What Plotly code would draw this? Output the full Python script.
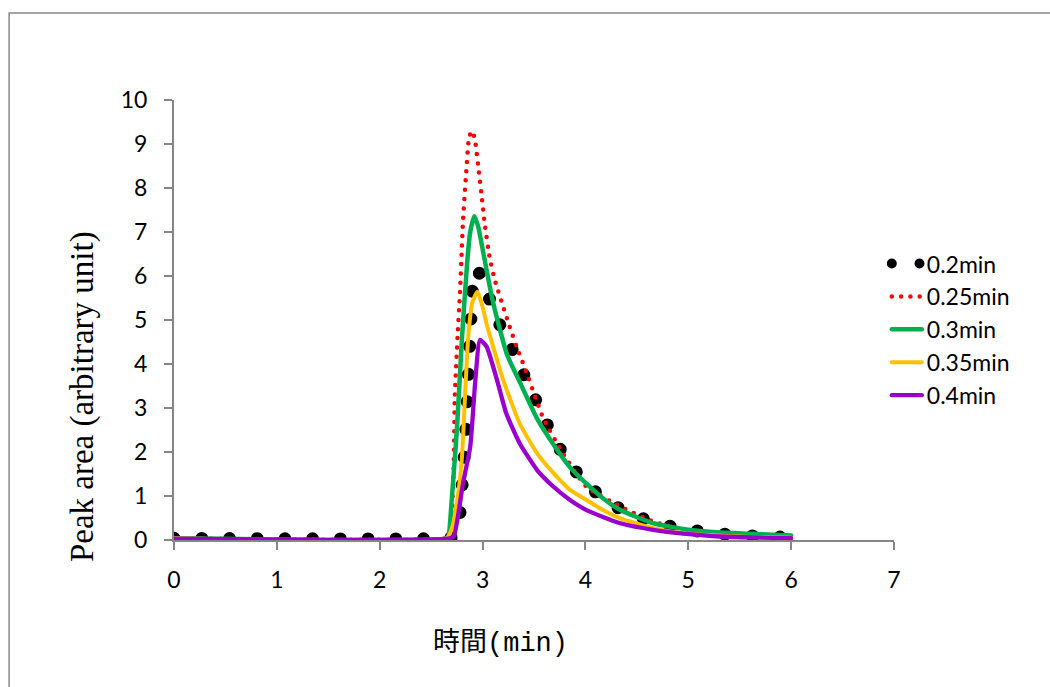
import plotly.graph_objects as go

# ---- data ----
series_names = ["0.2min", "0.25min", "0.3min", "0.35min", "0.4min"]

x_02 = [0, 2.66, 2.71, 2.75, 2.78, 2.80, 2.82, 2.84, 2.86, 2.88, 2.90, 2.93, 2.96, 3.06, 3.15, 3.24, 3.34, 3.45, 3.57, 3.68, 3.82, 3.99, 4.19, 4.42, 4.68, 4.94, 5.20, 5.47, 5.74, 6.0]
y_02 = [0.04, 0.04, 0.07, 0.3, 0.61, 1.21, 1.84, 2.6, 3.6, 4.7, 5.64, 6.15, 6.1, 5.52, 4.98, 4.55, 4.08, 3.5, 2.93, 2.36, 1.82, 1.33, 0.91, 0.61, 0.39, 0.26, 0.17, 0.11, 0.08, 0.06]

x_025 = [0, 2.65, 2.68, 2.70, 2.72, 2.73, 2.76, 2.78, 2.81, 2.84, 2.87, 2.90, 2.926, 2.96, 2.99, 3.02, 3.07, 3.12, 3.20, 3.27, 3.33, 3.43, 3.59, 3.77, 4.01, 4.34, 4.66, 4.98, 5.30, 5.60, 6.0]
y_025 = [0.04, 0.04, 0.1, 0.5, 1.74, 3.26, 4.77, 5.6, 7.27, 8.33, 9.17, 9.30, 9.09, 8.45, 7.84, 7.2, 6.4, 5.9, 5.3, 4.8, 4.4, 3.79, 2.77, 2.01, 1.21, 0.76, 0.42, 0.23, 0.14, 0.09, 0.05]

x_03 = [0, 2.65, 2.67, 2.70, 2.75, 2.80, 2.85, 2.88, 2.92, 2.96, 2.99, 3.09, 3.17, 3.24, 3.36, 3.53, 3.69, 3.85, 4.01, 4.17, 4.34, 4.66, 4.98, 5.31, 5.63, 6.0]
y_03 = [0.04, 0.04, 0.1, 0.9, 2.5, 4.6, 6.3, 7.0, 7.36, 7.1, 6.74, 5.53, 4.77, 4.2, 3.6, 2.76, 2.17, 1.65, 1.28, 0.95, 0.68, 0.38, 0.24, 0.17, 0.14, 0.10]

x_035 = [0, 2.65, 2.70, 2.76, 2.80, 2.83, 2.86, 2.90, 2.95, 3.00, 3.04, 3.09, 3.14, 3.20, 3.36, 3.53, 3.69, 3.85, 4.01, 4.17, 4.34, 4.66, 4.98, 5.50, 6.0]
y_035 = [0.04, 0.04, 0.25, 1.0, 1.9, 3.3, 4.6, 5.4, 5.64, 5.3, 4.9, 4.5, 4.1, 3.64, 2.65, 1.97, 1.52, 1.14, 0.91, 0.68, 0.49, 0.27, 0.15, 0.08, 0.05]

x_04 = [0, 2.67, 2.72, 2.76, 2.81, 2.88, 2.93, 2.975, 3.04, 3.14, 3.23, 3.36, 3.53, 3.69, 3.85, 4.01, 4.34, 4.66, 4.98, 5.31, 6.0]
y_04 = [0.03, 0.03, 0.08, 0.53, 1.29, 2.12, 3.64, 4.55, 4.39, 3.64, 2.88, 2.20, 1.59, 1.21, 0.91, 0.68, 0.38, 0.23, 0.14, 0.08, 0.04]

x_ticks = [0, 1, 2, 3, 4, 5, 6, 7]
y_ticks = [0, 1, 2, 3, 4, 5, 6, 7, 8, 9, 10]

# ---- styles ----
colors = ["#000000", "#FF0000", "#00B050", "#FFC000", "#9900CC"]
widths = [13, 4.5, 4.5, 4, 4.3]
dashes = ["0px,27.7px", "0px,9.3px", "solid", "solid", "solid"]

xs = [x_02, x_025, x_03, x_035, x_04]
ys = [y_02, y_025, y_03, y_035, y_04]

fig = go.Figure()
for name, xv, yv, c, w, d in zip(series_names, xs, ys, colors, widths, dashes):
    fig.add_trace(go.Scatter(x=xv, y=yv, mode="lines", name=name,
                             line=dict(color=c, width=w, dash=d,
                                       shape="spline", smoothing=0.5)))

axis_common = dict(showline=True, linecolor="#868686", linewidth=2,
                   ticks="outside", ticklen=8, tickcolor="#868686", tickwidth=2,
                   showgrid=False, zeroline=False,
                   tickfont=dict(family="Lato", size=23, color="#000000"))

fig.update_xaxes(range=[0, 7], tickvals=x_ticks, ticklabelstandoff=10, **axis_common)
fig.update_yaxes(range=[0, 10], tickvals=y_ticks, ticklabelstandoff=12, **axis_common)

fig.update_layout(
    width=1050, height=687,
    margin=dict(l=174, r=156, t=100, b=147),
    paper_bgcolor="white", plot_bgcolor="white",
    showlegend=True,
    legend=dict(x=0.99, y=0.677, xanchor="left", yanchor="top",
                font=dict(family="Lato", size=23, color="#000000"),
                bgcolor="rgba(0,0,0,0)", tracegroupgap=0),
    annotations=[
        dict(text="Peak area (arbitrary unit)", xref="paper", yref="paper",
             x=-0.1278, y=0.327, xanchor="center", yanchor="middle",
             textangle=-90, showarrow=False,
             font=dict(family="Liberation Serif", size=33, color="#000000")),
        dict(text="時間(min)", xref="paper", yref="paper",
             x=0.4528, y=-0.234, xanchor="center", yanchor="middle",
             showarrow=False,
             font=dict(family="Liberation Mono, Noto Sans CJK TC", size=27, color="#000000")),
    ],
    shapes=[dict(type="rect", xref="paper", yref="paper",
                 x0=-0.229, x1=1.25, y0=-0.36, y1=1.198,
                 line=dict(color="#868686", width=1.5), layer="below")],
)

post = """
var s = document.createElement('style');
s.textContent = '.js-line{stroke-linecap:round;stroke-linejoin:round;}';
document.head.appendChild(s);
"""
fig.write_html("out.html", post_script=post)
